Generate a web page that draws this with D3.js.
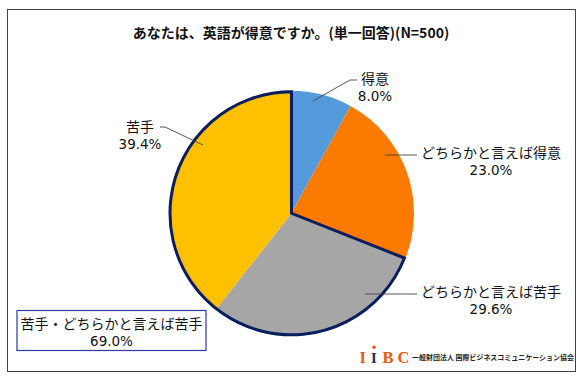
<!DOCTYPE html>
<html><head><meta charset="utf-8">
<script src="https://cdn.jsdelivr.net/npm/d3@7"></script>
<style>
html,body{margin:0;padding:0;background:#fff;}
svg{display:block;font-family:"Noto Sans CJK JP","Noto Sans",sans-serif;}
</style></head>
<body><svg id="c" width="584" height="379"></svg>
<script>
const title = "あなたは、英語が得意ですか。(単一回答)(N=500)";
const categories = ["得意", "どちらかと言えば得意", "どちらかと言えば苦手", "苦手"];
const values = [8.0, 23.0, 29.6, 39.4];
const colors = ["#559BDC", "#FA7B00", "#A6A6A6", "#FFC000"];
const negativeGroup = ["どちらかと言えば苦手", "苦手"];
const summaryLabel = "苦手・どちらかと言えば苦手";
const summaryValue = 69.0;
const logoLetters = ["I", "I", "B", "C"];
const logoText = "一般財団法人 国際ビジネスコミュニケーション協会";

// layout (not data)
const W = 584, H = 379, cx = 291.5, cy = 213.3, R = 122.5;
const labelLayout = [
  {tx: 375, ty: 79, line: [[357, 80], [350, 80], [313, 101]]},
  {tx: 491, ty: 153, line: [[417, 155], [385, 155]]},
  {tx: 491, ty: 292, line: [[417, 294], [365, 294]]},
  {tx: 140, ty: 127, line: [[160, 127], [165, 127], [203, 145]]}
];
const pctFont = "'DejaVu Sans',Verdana,sans-serif";
const cjkFont = "'Noto Sans CJK JP','Noto Sans',sans-serif";

const svg = d3.select("#c");
svg.append("rect").attr("x", 7.5).attr("y", 9.5).attr("width", 568).attr("height", 362)
  .attr("fill", "#fff").attr("stroke", "#444").attr("stroke-width", 1);

svg.append("text").attr("x", 291).attr("y", 38).attr("text-anchor", "middle").attr("fill", "#111")
  .style("font-family", cjkFont).style("font-size", "14px").style("font-weight", "bold").text(title);

const pie = d3.pie().sort(null).value(d => d.v);
const arcs = pie(categories.map((c, i) => ({c, v: values[i], col: colors[i]})));
const arc = d3.arc().innerRadius(0).outerRadius(R);
const g = svg.append("g").attr("transform", `translate(${cx},${cy})`);

g.selectAll("path.slice").data(arcs).join("path").attr("class", "slice")
  .attr("d", arc).attr("fill", d => d.data.col);

// outline for negative group
const neg = arcs.filter(a => negativeGroup.includes(a.data.c));
const groupArc = {startAngle: d3.min(neg, a => a.startAngle), endAngle: d3.max(neg, a => a.endAngle)};
g.append("path").attr("d", d3.arc().innerRadius(0).outerRadius(R - 1)(groupArc))
  .attr("fill", "none").attr("stroke", "#0A1D5E").attr("stroke-width", 3).attr("stroke-linejoin", "miter");

// labels
const fmt = d3.format(".1f");
arcs.forEach((a, i) => {
  const L = labelLayout[i];
  svg.append("path").attr("d", d3.line()(L.line)).attr("fill", "none")
    .attr("stroke", "#444").attr("stroke-width", 0.9);
  svg.append("text").attr("text-anchor", "middle").attr("fill", "#111")
    .style("font-family", cjkFont).style("font-size", "14px")
    .attr("x", L.tx).attr("y", L.ty + 5).text(a.data.c);
  svg.append("text").attr("text-anchor", "middle").attr("fill", "#111")
    .style("font-family", pctFont).style("font-size", "13.5px")
    .attr("x", L.tx).attr("y", L.ty + 22).text(fmt(a.data.v) + "%");
});

// summary box
svg.append("rect").attr("x", 17).attr("y", 310.5).attr("width", 189).attr("height", 40)
  .attr("fill", "#fff").attr("stroke", "#2B3A9E").attr("stroke-width", 1.2);
svg.append("text").attr("text-anchor", "middle").attr("fill", "#111")
  .style("font-family", cjkFont).style("font-size", "14px")
  .attr("x", 111.5).attr("y", 328.5).text(summaryLabel);
svg.append("text").attr("text-anchor", "middle").attr("fill", "#111")
  .style("font-family", pctFont).style("font-size", "13.5px")
  .attr("x", 111.5).attr("y", 346).text(fmt(summaryValue) + "%");

// logo
const logoX = [359.5, 371, 382.5, 397.5];
const logoCol = ["#EE5A0C", "#1B2A6B", "#EE5A0C", "#EE5A0C"];
logoLetters.forEach((ch, i) => {
  svg.append("text").attr("x", logoX[i]).attr("y", 362.5).attr("fill", logoCol[i])
    .style("font-family", "'Liberation Serif','DejaVu Serif',serif")
    .style("font-size", (i === 1 ? 14.5 : 16.5) + "px").style("font-weight", "bold").text(ch);
});
svg.append("circle").attr("cx", 374).attr("cy", 347.3).attr("r", 1.8).attr("fill", "#EE5A0C");
svg.append("text").attr("x", 412).attr("y", 360).attr("fill", "#222")
  .style("font-family", cjkFont).style("font-size", "7.2px").style("font-weight", "bold")
  .attr("textLength", 162).attr("lengthAdjust", "spacingAndGlyphs").text(logoText);
</script></body></html>
